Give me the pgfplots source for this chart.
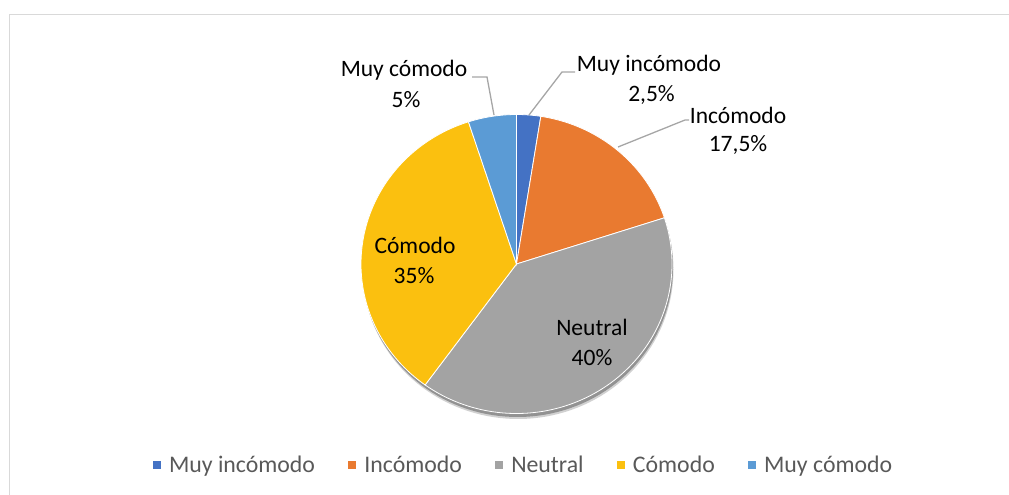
\documentclass[border=0pt]{standalone}
\usepackage{fontspec}
\setmainfont{Carlito}
\usepackage{pgfplots}
\usepackage{pgfplotstable}
\pgfplotsset{compat=1.18}
\definecolor{cA}{HTML}{4472C4}
\definecolor{cB}{HTML}{E97A30}
\definecolor{cC}{HTML}{A3A3A3}
\definecolor{cD}{HTML}{FBC00F}
\definecolor{cE}{HTML}{5B9BD5}
\definecolor{leader}{HTML}{A6A6A6}
\definecolor{legtext}{HTML}{595959}
\definecolor{frame}{HTML}{D9D9D9}
\pgfplotstableread{
cat valor
0 2.5
1 17.5
2 40
3 35
4 5
}\datos
\newcommand\lab{\fontsize{23.6}{28}\selectfont}
\newcommand\leg{\fontsize{23.9}{28}\selectfont}
\pgfplotstablegetelem{0}{valor}\of\datos \let\vA\pgfplotsretval
\pgfplotstablegetelem{1}{valor}\of\datos \let\vB\pgfplotsretval
\pgfplotstablegetelem{2}{valor}\of\datos \let\vC\pgfplotsretval
\pgfplotstablegetelem{3}{valor}\of\datos \let\vD\pgfplotsretval
\pgfplotstablegetelem{4}{valor}\of\datos \let\vE\pgfplotsretval
\pgfmathsetmacro\aA{90}
\pgfmathsetmacro\aB{\aA-3.6*\vA}
\pgfmathsetmacro\aC{\aB-3.6*\vB}
\pgfmathsetmacro\aD{\aC-3.6*\vC}
\pgfmathsetmacro\aE{\aD-3.6*\vD}
\pgfmathsetmacro\aF{\aE-3.6*\vE}
\def\cx{516.5}\def\cy{264}\def\rx{155.5}\def\ry{149.5}
\begin{document}%
\begin{tikzpicture}
\begin{axis}[scale only axis,
  width=1009bp, height=495bp, xmin=0, xmax=1009, ymin=0, ymax=495,
  y dir=reverse, hide axis, clip=false,
  legend image code/.code={\fill[#1,draw=none] (0bp,-4bp) rectangle (8bp,4bp);},
  legend style={draw=none, fill=none, at={(axis cs:152.7,465)}, anchor=west,
    legend columns=-1, inner sep=0pt, outer sep=0pt,
    font=\leg, text=legtext,
    nodes={inner sep=0pt, outer sep=0pt},
    /tikz/every odd column/.append style={column sep=8.3bp},
    /tikz/every even column/.append style={column sep=33bp}},
]
\coordinate (BL) at (axis cs:0,495);
\coordinate (TR) at (axis cs:1009,0);
\draw[frame, line width=1.5bp] (axis cs:9.5,495) -- (axis cs:9.5,14.5) -- (axis cs:1009,14.5);
% shadow
\addplot[forget plot, fill=black, draw=none, fill opacity=0.18, domain=0:360, samples=150]
  ({\cx+1.5+\rx*cos(x)},{\cy+5.5+\ry*sin(x)}) -- cycle;
\addplot[forget plot, fill=black, draw=none, fill opacity=0.3, domain=0:360, samples=150]
  ({\cx+1+\rx*cos(x)},{\cy+3.5+\ry*sin(x)}) -- cycle;
% wedges
\addplot[fill=cA, draw=white, line width=0.8bp, domain=\aB:\aA, samples=20]
  ({\cx+\rx*cos(x)},{\cy-\ry*sin(x)}) -- (axis cs:\cx,\cy) -- cycle;
\addplot[fill=cB, draw=white, line width=0.8bp, domain=\aC:\aB, samples=60]
  ({\cx+\rx*cos(x)},{\cy-\ry*sin(x)}) -- (axis cs:\cx,\cy) -- cycle;
\addplot[fill=cC, draw=white, line width=0.8bp, domain=\aD:\aC, samples=120]
  ({\cx+\rx*cos(x)},{\cy-\ry*sin(x)}) -- (axis cs:\cx,\cy) -- cycle;
\addplot[fill=cD, draw=white, line width=0.8bp, domain=\aE:\aD, samples=110]
  ({\cx+\rx*cos(x)},{\cy-\ry*sin(x)}) -- (axis cs:\cx,\cy) -- cycle;
\addplot[fill=cE, draw=white, line width=0.8bp, domain=\aF:\aE, samples=20]
  ({\cx+\rx*cos(x)},{\cy-\ry*sin(x)}) -- (axis cs:\cx,\cy) -- cycle;
\legend{Muy incómodo, Incómodo, Neutral, Cómodo, Muy cómodo}
% leader lines
\draw[leader, line width=1.3bp] (axis cs:529,115) -- (axis cs:562,72) -- (axis cs:575,72);
\draw[leader, line width=1.3bp] (axis cs:618,147) -- (axis cs:685,120) -- (axis cs:689,120);
\draw[leader, line width=1.3bp] (axis cs:472,77) -- (axis cs:487,77) -- (axis cs:494,115);
% data labels
\node[anchor=base, font=\lab, text=black] at (axis cs:649,71.7) {Muy incómodo};
\node[anchor=base, font=\lab, text=black] at (axis cs:651.5,101.7) {2,5\%};
\node[anchor=base, font=\lab, text=black] at (axis cs:738,123) {Incómodo};
\node[anchor=base, font=\lab, text=black] at (axis cs:738,151.7) {17,5\%};
\node[anchor=base, font=\lab, text=black] at (axis cs:592,335) {Neutral};
\node[anchor=base, font=\lab, text=black] at (axis cs:592,365) {40\%};
\node[anchor=base, font=\lab, text=black] at (axis cs:415,253) {Cómodo};
\node[anchor=base, font=\lab, text=black] at (axis cs:414,283) {35\%};
\node[anchor=base, font=\lab, text=black] at (axis cs:404,77) {Muy cómodo};
\node[anchor=base, font=\lab, text=black] at (axis cs:406,107) {5\%};
\end{axis}
\pgfresetboundingbox
\path[use as bounding box] (BL) rectangle (TR);
\end{tikzpicture}%
\end{document}
